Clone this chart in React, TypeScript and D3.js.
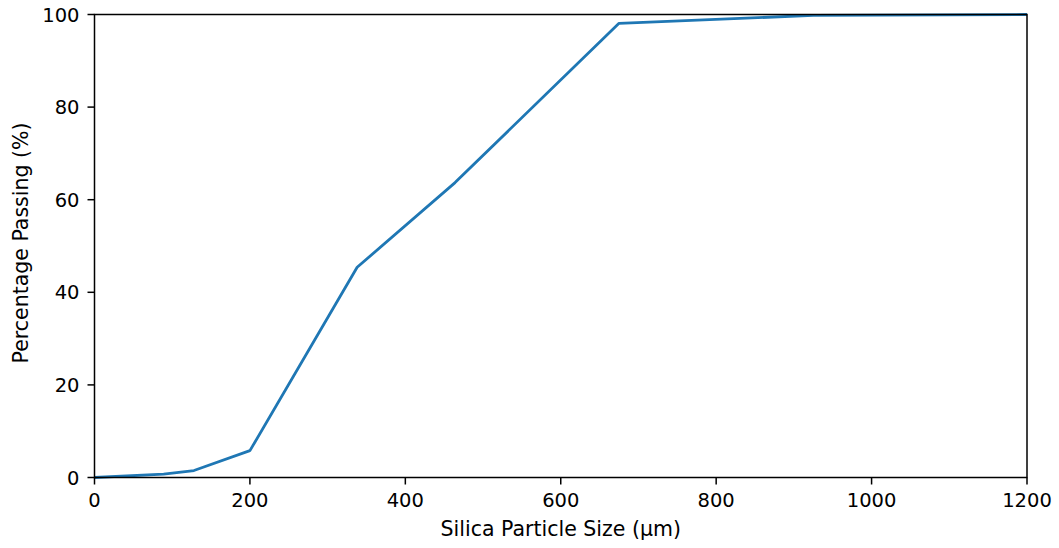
import React from "react";
import * as d3 from "d3";

const sizes = [0, 89, 128, 200, 338, 464, 675, 925, 1200];
const passing = [0, 0.75, 1.5, 5.8, 45.4, 63.7, 98.1, 99.8, 100];
const xTicks = [0, 200, 400, 600, 800, 1000, 1200];
const yTicks = [0, 20, 40, 60, 80, 100];

export default function App() {
  const W = 1059, H = 548;
  const left = 94.5, right = 1027, top = 14.5, bottom = 477.5;
  const x = d3.scaleLinear().domain([0, 1200]).range([left, right]);
  const y = d3.scaleLinear().domain([0, 100]).range([bottom, top]);
  const pts = sizes.map((s, i) => [s, passing[i]] as [number, number]);
  const line = d3.line<[number, number]>().x(d => x(d[0])).y(d => y(d[1]));
  const font = "DejaVu Sans, sans-serif";
  const fs = 19.5;
  return (
    <svg width={W} height={H} style={{ position: "absolute", left: 0, top: 0, background: "#fff" }} fontFamily={font}>
      <defs>
        <clipPath id="c"><rect x={left} y={top - 2} width={right - left} height={bottom - top + 4} /></clipPath>
      </defs>
      <path d={line(pts) || ""} fill="none" stroke="#1f77b4" strokeWidth={2.8} strokeLinejoin="round" strokeLinecap="butt" clipPath="url(#c)" />
      <rect x={left} y={top} width={right - left} height={bottom - top} fill="none" stroke="#000" strokeWidth={1.5} />
      {xTicks.map(t => (
        <g key={t}>
          <line x1={x(t)} x2={x(t)} y1={bottom} y2={bottom + 7} stroke="#000" strokeWidth={1.5} />
          <text x={x(t)} y={bottom + 29.5} textAnchor="middle" fontSize={fs} fill="#000">{t}</text>
        </g>
      ))}
      {yTicks.map(t => (
        <g key={t}>
          <line x1={left - 7} x2={left} y1={y(t)} y2={y(t)} stroke="#000" strokeWidth={1.5} />
          <text x={left - 15} y={y(t)} dy="0.36em" textAnchor="end" fontSize={fs} fill="#000">{t}</text>
        </g>
      ))}
      <text x={(left + right) / 2} y={536} textAnchor="middle" fontSize={20.5} fill="#000">Silica Particle Size (µm)</text>
      <text transform={`translate(28,${(top + bottom) / 2 - 3}) rotate(-90)`} textAnchor="middle" fontSize={20.5} fill="#000">Percentage Passing (%)</text>
    </svg>
  );
}
